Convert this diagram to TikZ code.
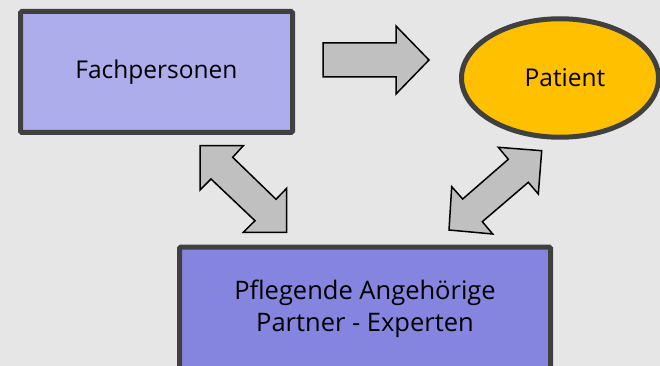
\documentclass[tikz,border=0pt]{standalone}
\usepackage{fontspec}
\setmainfont{Open Sans}
\usetikzlibrary{shapes.geometric}
\definecolor{bggray}{HTML}{E6E6E6}
\definecolor{frame}{HTML}{404040}
\definecolor{lightlav}{HTML}{ADADEC}
\definecolor{darklav}{HTML}{8585E0}
\definecolor{gold}{HTML}{FFC000}
\definecolor{arrowgray}{HTML}{C0C0C0}
\begin{document}
\begin{tikzpicture}[x=1pt,y=-1pt,
    box/.style={draw=frame, line width=5pt, rounded corners=1.5pt, inner sep=0pt,
        font=\fontsize{24.5}{32}\selectfont},
    blockarrow/.style={draw=black, fill=arrowgray, line width=1.5pt}]
    \useasboundingbox (0,0) rectangle (660,366);
    \fill[bggray] (0,0) rectangle (660,366);
    \clip (0,0) rectangle (660,366);

    \node[box, fill=lightlav, minimum width=272pt, minimum height=121pt] (fach) at (156.5,72) {Fachpersonen};
    \node[box, ellipse, rounded corners=0pt, fill=gold, minimum width=197pt, minimum height=118.5pt] (patient) at (560,78) {\hspace*{10pt}Patient};
    \node[box, fill=darklav, align=center, minimum width=371pt, minimum height=124pt,
        font=\fontsize{25.5}{32}\selectfont] (angeh) at (365,309) {Pflegende Angehörige\\Partner - Experten};

    % Fachpersonen -> Patient
    \draw[blockarrow] (323,43) -- (396,43) -- (396,26) -- (429,60) -- (396,94) -- (396,77) -- (323,77) -- cycle;
    % Fachpersonen <-> Angehoerige
    \draw[blockarrow] (200,145.7) -- (243.3,145.7) -- (232.7,157.3) -- (276,199.3) -- (286.7,188.3)
        -- (286.7,232.3) -- (243.3,232.3) -- (255,220.7) -- (211,179) -- (200,190) -- cycle;
    % Patient <-> Angehoerige
    \draw[blockarrow] (498.3,147.3) -- (541.7,150.7) -- (538.3,194) -- (528.3,182.3) -- (482.3,221.7)
        -- (492.7,234) -- (449,230) -- (451.7,186.7) -- (462.7,199) -- (508.3,159.3) -- cycle;
\end{tikzpicture}
\end{document}
